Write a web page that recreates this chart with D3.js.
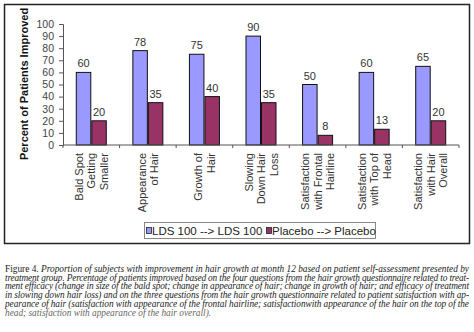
<!DOCTYPE html>
<html>
<head>
<meta charset="utf-8">
<script src="https://cdn.jsdelivr.net/npm/d3@7"></script>
<style>
  body { margin: 0; background: #fff; }
  svg { display: block; }
</style>
</head>
<body>
<div id="chart"></div>
<script>
// values
var categories = ["Bald Spot Getting Smaller", "Appearance of Hair", "Growth of Hair",
                  "Slowing Down Hair Loss", "Satisfaction with Frontal Hairline",
                  "Satisfaction with Top of Head", "Satisfaction with Hair Overall"];
var categoryLines = [["Bald Spot", "Getting", "Smaller"], ["Appearance", "of Hair"], ["Growth of", "Hair"],
                     ["Slowing", "Down Hair", "Loss"], ["Satisfaction", "with Frontal", "Hairline"],
                     ["Satisfaction", "with Top of", "Head"], ["Satisfaction", "with Hair", "Overall"]];
var seriesNames = ["LDS 100 --> LDS 100", "Placebo --> Placebo"];
var ldsValues = [60, 78, 75, 90, 50, 60, 65];
var placeboValues = [20, 35, 40, 35, 8, 13, 20];
var yTicks = [0, 10, 20, 30, 40, 50, 60, 70, 80, 90, 100];
var captionLines = [
    "treatment group. Percentage of patients improved based on the four questions from the hair growth questionnaire related to treat-",
    "ment efficacy (change in size of the bald spot; change in appearance of hair; change in growth of hair; and efficacy of treatment",
    "in slowing down hair loss) and on the three questions from the hair growth questionnaire related to patient satisfaction with ap-",
    "pearance of hair (satisfaction with appearance of the frontal hairline; satisfactionwith appearance of the hair on the top of the"
];
var captionFirst = "Proportion of subjects with improvement in hair growth at month 12 based on patient self-assessment presented by";
var captionLast = "head; satisfaction with appearance of the hair overall).";

var width = 474, height = 332;
var colors = ["#9999ff", "#993366"];
var sans = "'Liberation Sans', Arial, sans-serif";

var svg = d3.select("#chart").append("svg")
    .attr("width", width)
    .attr("height", height);

// frame around the chart
svg.append("rect")
    .attr("x", 4.5).attr("y", 4.5)
    .attr("width", 465).attr("height", 239)
    .attr("fill", "#fff")
    .attr("stroke", "#222")
    .attr("stroke-width", 1.5);

var plot = {left: 63, right: 459, top: 24, bottom: 145};

var yScale = d3.scaleLinear()
    .domain([0, 100])
    .range([plot.bottom, plot.top]);

var x0 = d3.scaleBand()
    .domain(categories)
    .range([plot.left, plot.right]);

var x1 = d3.scaleBand()
    .domain(seriesNames)
    .range([0, 31]);

var rows = categories.map(function(c, i) {
    return {cat: c, values: [ldsValues[i], placeboValues[i]]};
});

// bars
var groups = svg.append("g").selectAll("g")
    .data(rows)
    .enter().append("g")
    .attr("transform", function(d) {
        return "translate(" + (x0(d.cat) + x0.bandwidth() / 2 - 15.5) + ",0)";
    });

groups.selectAll("rect")
    .data(function(d) { return d.values.map(function(v, j) { return {s: seriesNames[j], v: v, j: j}; }); })
    .enter().append("rect")
    .attr("x", function(d) { return x1(d.s) + 0.5; })
    .attr("y", function(d) { return yScale(d.v); })
    .attr("width", x1.bandwidth() - 1)
    .attr("height", function(d) { return plot.bottom - yScale(d.v); })
    .attr("fill", function(d) { return colors[d.j]; })
    .attr("stroke", "#111")
    .attr("stroke-width", 1);

groups.selectAll("text")
    .data(function(d) { return d.values.map(function(v, j) { return {s: seriesNames[j], v: v}; }); })
    .enter().append("text")
    .attr("x", function(d) { return x1(d.s) + x1.bandwidth() / 2; })
    .attr("y", function(d) { return yScale(d.v) - 5; })
    .attr("text-anchor", "middle")
    .style("font-family", sans)
    .style("font-size", "11px")
    .style("fill", "#333")
    .text(function(d) { return d.v; });

// y axis
var yAxis = svg.append("g")
    .attr("transform", "translate(" + plot.left + ",0)")
    .call(d3.axisLeft(yScale).tickValues(yTicks).tickSize(4).tickPadding(5));
yAxis.selectAll("text")
    .style("font-family", sans)
    .style("font-size", "10.5px")
    .style("fill", "#444");
yAxis.selectAll("line, path").attr("stroke", "#555");

// x axis, ticks between categories
var xAxis = svg.append("g")
    .attr("transform", "translate(0," + plot.bottom + ")");
xAxis.append("line")
    .attr("x1", plot.left).attr("x2", plot.right)
    .attr("stroke", "#555");
xAxis.selectAll(".tick")
    .data(categories.concat(["end"]))
    .enter().append("line")
    .attr("x1", function(d, i) { return i < categories.length ? x0(d) : plot.right; })
    .attr("x2", function(d, i) { return i < categories.length ? x0(d) : plot.right; })
    .attr("y1", 0).attr("y2", 3)
    .attr("stroke", "#555");

// rotated category labels
var labels = svg.append("g").selectAll("text")
    .data(categories)
    .enter().append("text")
    .attr("transform", function(d) {
        return "translate(" + (x0(d) + x0.bandwidth() / 2) + ",153) rotate(-90)";
    })
    .attr("text-anchor", "end")
    .style("font-family", sans)
    .style("font-size", "11px")
    .style("fill", "#333");

labels.selectAll("tspan")
    .data(function(d, i) { return categoryLines[i]; })
    .enter().append("tspan")
    .attr("x", 0)
    .attr("y", function(d, j, nodes) {
        return (j - (nodes.length - 1) / 2) * 12.5 + 4;
    })
    .text(function(d) { return d; });

// y axis title
svg.append("text")
    .attr("transform", "translate(28,84) rotate(-90)")
    .attr("text-anchor", "middle")
    .style("font-family", sans)
    .style("font-size", "11px")
    .style("font-weight", "bold")
    .style("fill", "#111")
    .text("Percent of Patients Improved");

// legend
var legend = svg.append("g");
legend.append("rect")
    .attr("x", 144.5).attr("y", 222.5)
    .attr("width", 231).attr("height", 16)
    .attr("fill", "#fff")
    .attr("stroke", "#888");

var legendX = [146, 266];
seriesNames.forEach(function(name, i) {
    legend.append("rect")
        .attr("x", legendX[i] + 0.5).attr("y", 227.5)
        .attr("width", 5).attr("height", 6)
        .attr("fill", colors[i])
        .attr("stroke", "#222")
        .attr("stroke-width", 0.8);
    legend.append("text")
        .attr("x", legendX[i] + 6)
        .attr("y", 234.5)
        .style("font-family", sans)
        .style("font-size", "11.5px")
        .style("fill", "#222")
        .text(name);
});

// caption
var cap = svg.append("g")
    .style("font-family", "'Liberation Serif', 'DejaVu Serif', serif")
    .style("font-size", "9.3px")
    .style("fill", "#222");

var first = cap.append("text")
    .attr("x", 5).attr("y", 272)
    .attr("textLength", 464)
    .attr("lengthAdjust", "spacing");
first.append("tspan").text("Figure 4. ");
first.append("tspan").style("font-style", "italic").text(captionFirst);

captionLines.forEach(function(line, i) {
    cap.append("text")
        .attr("x", 5).attr("y", 280.7 + i * 8.7)
        .attr("textLength", 464)
        .attr("lengthAdjust", "spacing")
        .style("font-style", "italic")
        .text(line);
});

cap.append("text")
    .attr("x", 5).attr("y", 280.7 + captionLines.length * 8.7)
    .style("font-style", "italic")
    .style("fill", "#666")
    .text(captionLast);
</script>
</body>
</html>
